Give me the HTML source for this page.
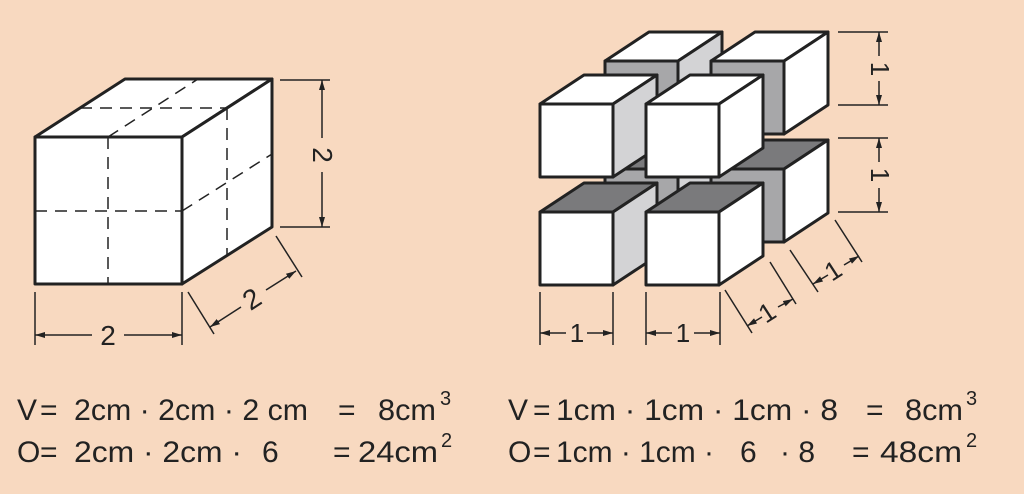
<!DOCTYPE html>
<html><head><meta charset="utf-8"><style>
html,body{margin:0;padding:0;background:#f8d9c0;}
svg{display:block}
text{font-family:"Liberation Sans",sans-serif;fill:#222}
</style></head><body>
<svg width="1024" height="494" viewBox="0 0 1024 494" xmlns="http://www.w3.org/2000/svg">
<defs>
<marker id="a" viewBox="0 0 10 6" refX="10" refY="3" markerWidth="10" markerHeight="6" markerUnits="userSpaceOnUse" orient="auto-start-reverse"><path d="M0,0 L10,3 L0,6 z" fill="#222"/></marker>
</defs>
<rect width="1024" height="494" fill="#f8d9c0"/>
<!-- Left cube -->
<g stroke="#222" stroke-width="3" stroke-linejoin="round">
<polygon points="35,137 125,79 272,79 182,137" fill="#fff"/>
<polygon points="182,137 272,79 272,227 182,284" fill="#fff"/>
<rect x="35" y="137" width="147" height="147" fill="#fff"/>
</g>
<g stroke="#222" stroke-width="1.5" stroke-dasharray="12,8" fill="none">
<line x1="108" y1="137" x2="108" y2="284"/>
<line x1="35" y1="211" x2="182" y2="211"/>
<line x1="108" y1="137" x2="198" y2="79"/>
<line x1="80" y1="108" x2="227" y2="108"/>
<line x1="227" y1="108" x2="227" y2="255"/>
<line x1="182" y1="211" x2="272" y2="154"/>
</g>
<g stroke="#222" stroke-width="1.5" fill="none">
<line x1="280" y1="80" x2="330" y2="80"/><line x1="280" y1="227" x2="330" y2="227"/>
<line x1="322" y1="80" x2="322" y2="138" marker-start="url(#a)"/><line x1="322" y1="172" x2="322" y2="227" marker-end="url(#a)"/>
<line x1="35" y1="292" x2="35" y2="345"/><line x1="182" y1="292" x2="182" y2="345"/>
<line x1="35" y1="335" x2="92" y2="335" marker-start="url(#a)"/><line x1="124" y1="335" x2="182" y2="335" marker-end="url(#a)"/>
<line x1="188" y1="292" x2="214" y2="334"/><line x1="276" y1="236" x2="302" y2="277"/>
<line x1="210" y1="327" x2="241" y2="307" marker-start="url(#a)"/><line x1="266" y1="290" x2="296" y2="271" marker-end="url(#a)"/>
</g>
<text x="108" y="345" font-size="28" text-anchor="middle">2</text>
<text transform="translate(313,155) rotate(90)" font-size="28" text-anchor="middle">2</text>
<text transform="translate(257,307) rotate(-33)" font-size="28" text-anchor="middle">2</text>

<!-- Right cubes -->
<g stroke="#222" stroke-width="3" stroke-linejoin="round">
<polygon points="605,169 649,140 722,140 678,169" fill="#7a7a7c"/>
<polygon points="678,169 722,140 722,213 678,242" fill="#d3d3d5"/>
<rect x="605" y="169" width="73" height="73" fill="#a7a7a9"/>
<polygon points="711,169 755,140 828,140 784,169" fill="#7a7a7c"/>
<polygon points="784,169 828,140 828,213 784,242" fill="#fff"/>
<rect x="711" y="169" width="73" height="73" fill="#a7a7a9"/>
<polygon points="605,61 649,32 722,32 678,61" fill="#fff"/>
<polygon points="678,61 722,32 722,105 678,134" fill="#d3d3d5"/>
<rect x="605" y="61" width="73" height="73" fill="#a7a7a9"/>
<polygon points="711,61 755,32 828,32 784,61" fill="#fff"/>
<polygon points="784,61 828,32 828,105 784,134" fill="#fff"/>
<rect x="711" y="61" width="73" height="73" fill="#a7a7a9"/>
<polygon points="540,212 584,183 657,183 613,212" fill="#7a7a7c"/>
<polygon points="613,212 657,183 657,256 613,285" fill="#d3d3d5"/>
<rect x="540" y="212" width="73" height="73" fill="#fff"/>
<polygon points="646,212 690,183 763,183 719,212" fill="#7a7a7c"/>
<polygon points="719,212 763,183 763,256 719,285" fill="#fff"/>
<rect x="646" y="212" width="73" height="73" fill="#fff"/>
<polygon points="540,104 584,75 657,75 613,104" fill="#fff"/>
<polygon points="613,104 657,75 657,148 613,177" fill="#d3d3d5"/>
<rect x="540" y="104" width="73" height="73" fill="#fff"/>
<polygon points="646,104 690,75 763,75 719,104" fill="#fff"/>
<polygon points="719,104 763,75 763,148 719,177" fill="#fff"/>
<rect x="646" y="104" width="73" height="73" fill="#fff"/>
</g>
<g stroke="#222" stroke-width="1.5" fill="none">
<line x1="838" y1="32" x2="888" y2="32"/><line x1="838" y1="105" x2="888" y2="105"/>
<line x1="838" y1="138" x2="888" y2="138"/><line x1="838" y1="212" x2="888" y2="212"/>
<line x1="879" y1="32" x2="879" y2="56" marker-start="url(#a)"/><line x1="879" y1="81" x2="879" y2="105" marker-end="url(#a)"/>
<line x1="879" y1="138" x2="879" y2="162" marker-start="url(#a)"/><line x1="879" y1="188" x2="879" y2="212" marker-end="url(#a)"/>
<line x1="540" y1="292" x2="540" y2="345"/><line x1="613" y1="292" x2="613" y2="345"/>
<line x1="646" y1="292" x2="646" y2="345"/><line x1="720" y1="292" x2="720" y2="345"/>
<line x1="540" y1="333" x2="566" y2="333" marker-start="url(#a)"/><line x1="587" y1="333" x2="613" y2="333" marker-end="url(#a)"/>
<line x1="646" y1="333" x2="672" y2="333" marker-start="url(#a)"/><line x1="694" y1="333" x2="720" y2="333" marker-end="url(#a)"/>
<line x1="725" y1="290" x2="752" y2="333"/><line x1="770" y1="262" x2="796" y2="304"/>
<line x1="747" y1="326" x2="762" y2="317" marker-start="url(#a)"/><line x1="778" y1="307" x2="793" y2="299" marker-end="url(#a)"/>
<line x1="790" y1="250" x2="818" y2="292"/><line x1="835" y1="220" x2="862" y2="262"/>
<line x1="813" y1="284" x2="828" y2="275" marker-start="url(#a)"/><line x1="844" y1="265" x2="859" y2="256" marker-end="url(#a)"/>
</g>
<text transform="translate(871,69) rotate(90)" font-size="26" text-anchor="middle">1</text>
<text transform="translate(871,175) rotate(90)" font-size="26" text-anchor="middle">1</text>
<text x="577" y="342" font-size="26" text-anchor="middle">1</text>
<text x="683" y="342" font-size="26" text-anchor="middle">1</text>
<text transform="translate(772,320) rotate(-33)" font-size="26" text-anchor="middle">1</text>
<text transform="translate(838,278) rotate(-33)" font-size="26" text-anchor="middle">1</text>

<!-- Formulas -->
<g font-size="30">
<text x="17" y="420">V</text>
<text x="40" y="420">=</text>
<text x="74" y="420" textLength="234" lengthAdjust="spacingAndGlyphs">2cm · 2cm · 2 cm</text>
<text x="338" y="420">=</text>
<text x="378" y="420" textLength="58" lengthAdjust="spacingAndGlyphs">8cm</text>
<text x="440" y="405" font-size="20">3</text>
<text x="508" y="420">V</text>
<text x="533" y="420">=</text>
<text x="556" y="420" textLength="282" lengthAdjust="spacingAndGlyphs">1cm · 1cm · 1cm · 8</text>
<text x="866" y="420">=</text>
<text x="905" y="420" textLength="58" lengthAdjust="spacingAndGlyphs">8cm</text>
<text x="966" y="405" font-size="20">3</text>

<text x="17" y="462">O</text>
<text x="40" y="462">=</text>
<text x="74" y="462" textLength="168" lengthAdjust="spacingAndGlyphs">2cm · 2cm ·</text>
<text x="262" y="462">6</text>
<text x="333" y="462">=</text>
<text x="358" y="462" textLength="80" lengthAdjust="spacingAndGlyphs">24cm</text>
<text x="441" y="447" font-size="20">2</text>
<text x="508" y="462">O</text>
<text x="533" y="462">=</text>
<text x="556" y="462" textLength="158" lengthAdjust="spacingAndGlyphs">1cm · 1cm ·</text>
<text x="740" y="462">6</text>
<text x="780" y="462">· 8</text>
<text x="852" y="462">=</text>
<text x="880" y="462" textLength="82" lengthAdjust="spacingAndGlyphs">48cm</text>
<text x="966" y="447" font-size="20">2</text>
</g>
</svg>
</body></html>
